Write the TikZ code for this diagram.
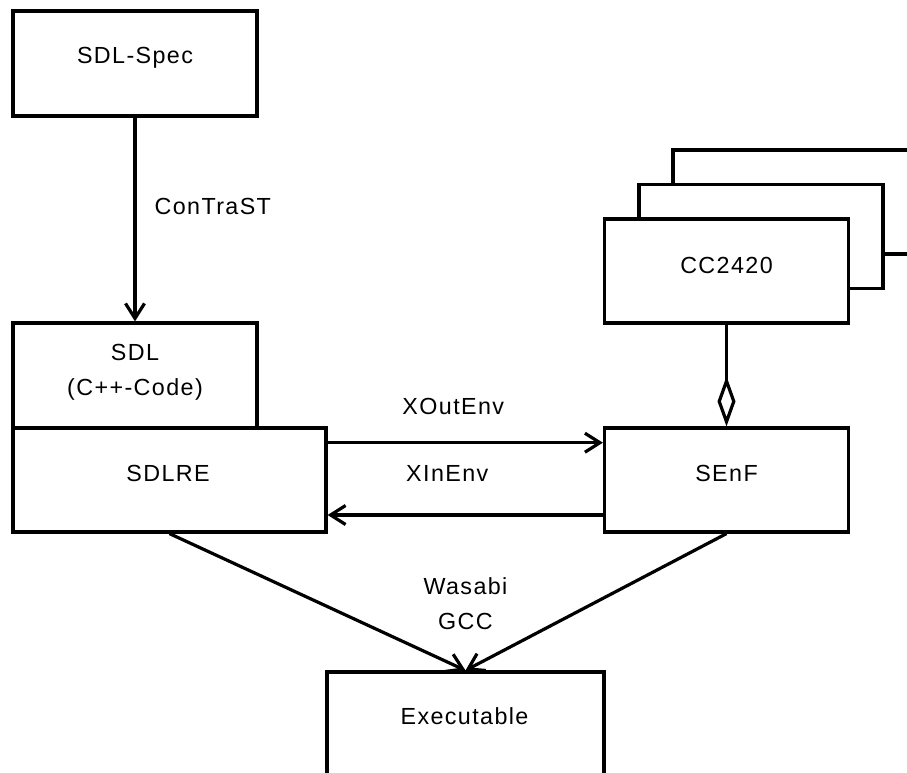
\documentclass[tikz,border=0pt]{standalone}
\usepackage{fontspec}
\setmainfont[LetterSpace=6]{Liberation Sans}
\usetikzlibrary{arrows.meta}
\begin{document}
\begin{tikzpicture}[x=1pt,y=-1pt,
  box/.style={draw, line width=3.2pt, fill=white, rectangle, inner sep=0pt},
  txt/.style={font=\fontsize{23.3}{35}\selectfont, inner sep=0pt},
  arr/.style={line width=3.2pt, -{Straight Barb[length=15pt,width=19pt,line width=3.2pt]}},
  agg/.style={line width=3.2pt, -{Diamond[open,length=50pt,width=18pt,line width=3.2pt]}}]
\clip (0,0) rectangle (907,773);
% boxes
\node[box, minimum width=244pt, minimum height=105pt] (spec) at (135,63.5) {};
\node[box, minimum width=244pt, minimum height=105pt] (sdl) at (135,375.5) {};
\node[box, minimum width=313pt, minimum height=104pt] (sdlre) at (169.5,480) {};
\node[box, minimum width=244pt, minimum height=104pt] (senf) at (726.5,480) {};
\node[box, minimum width=244pt, minimum height=104pt] (cc3) at (795,202) {};
\node[box, minimum width=244pt, minimum height=104pt] (cc2) at (761,236.5) {};
\node[box, minimum width=244pt, minimum height=104pt] (cc) at (726.5,271) {};
\node[box, minimum width=277pt, minimum height=104pt] (exe) at (465.5,724) {};
% texts
\node[txt, anchor=base] (spect) at ([yshift=-0.5pt]spec.center) {SDL-Spec};
\node[txt, align=center] (sdlt) at ([yshift=3.5pt]sdl.center) {SDL\\(C++-Code)};
\node[txt, anchor=base] (sdlret) at ([xshift=-1.5pt,yshift=-1.4pt]sdlre.center) {SDLRE};
\node[txt, anchor=base] (senft) at ([yshift=-1.4pt]senf.center) {SEnF};
\node[txt, anchor=base] (cct) at ([yshift=-2pt]cc.center) {CC2420};
\node[txt, anchor=base] (exet) at ([xshift=-1pt,yshift=-0.5pt]exe.center) {Executable};
\node[txt, align=center] (comp) at ([yshift=67pt]exe.north) {Wasabi\\GCC};
% connectors
\draw[arr] (spec) -- node[txt, anchor=base west, xshift=18pt, yshift=5pt] (contrast) {ConTraST} (sdl);
\draw[arr] ([yshift=37.3pt]sdlre.east) -- node[txt, anchor=base, xshift=-12pt, yshift=28.6pt] (xout) {XOutEnv} ([yshift=37.3pt]senf.west);
\draw[arr] ([yshift=-35pt]senf.west) -- node[txt, anchor=base, xshift=-18pt, yshift=33.6pt] (xin) {XInEnv} ([yshift=-35pt]sdlre.east);
\draw[agg] (cc) -- (senf);
\draw[arr] (sdlre.south) -- (exe.north);
\draw[arr] (senf.south) -- (exe.north);
\end{tikzpicture}
\end{document}
